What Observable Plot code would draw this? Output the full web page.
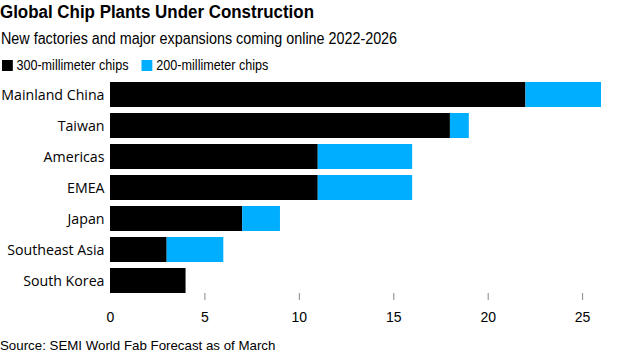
<!DOCTYPE html>
<html>
<head>
<meta charset="utf-8">
<script src="https://cdn.jsdelivr.net/npm/d3@7"></script>
<script src="https://cdn.jsdelivr.net/npm/@observablehq/plot@0.6"></script>
<style>
  html, body { margin: 0; padding: 0; background: #fff; }
  #wrap { position: relative; width: 618px; height: 353px; overflow: hidden; font-family: "Liberation Sans", Arial, sans-serif; }
  #title { position: absolute; left: 0px; top: 2px; font-weight: bold; font-size: 18px; white-space: nowrap; transform: scaleX(0.94); transform-origin: 0 0; }
  #subtitle { position: absolute; left: 1px; top: 30px; font-size: 16px; white-space: nowrap; transform: scaleX(0.896); transform-origin: 0 0; }
  #legend { position: absolute; left: 2px; top: 57px; font-size: 14px; white-space: nowrap; display: flex; align-items: center; transform: scaleX(0.9); transform-origin: 0 0; }
  .sw { display: inline-block; width: 12px; height: 11px; margin-right: 4px; }
  .item { display: inline-flex; align-items: center; margin-right: 15px; }
  #chart { position: absolute; left: 0; top: 76px; }
  #source { position: absolute; left: 0; top: 338px; font-size: 13.3px; white-space: nowrap; color: #000; }
</style>
</head>
<body>
<div id="wrap">
  <div id="title">Global Chip Plants Under Construction</div>
  <div id="subtitle">New factories and major expansions coming online 2022-2026</div>
  <div id="legend"></div>
  <div id="chart"></div>
  <div id="source">Source: SEMI World Fab Forecast as of March</div>
</div>
<script>
const regions = ["Mainland China", "Taiwan", "Americas", "EMEA", "Japan", "Southeast Asia", "South Korea"];
const chips300 = [22, 18, 11, 11, 7, 3, 4];
const chips200 = [4, 1, 5, 5, 2, 3, 0];
const seriesNames = ["300-millimeter chips", "200-millimeter chips"];
const seriesColors = ["#000000", "#00aeff"];
const xTicks = [0, 5, 10, 15, 20, 25];

const data = [];
regions.forEach((r, i) => {
  data.push({region: r, series: seriesNames[0], value: chips300[i]});
  data.push({region: r, series: seriesNames[1], value: chips200[i]});
});

const legend = document.getElementById("legend");
seriesNames.forEach((s, i) => {
  const it = document.createElement("span");
  it.className = "item";
  it.innerHTML = `<span class="sw" style="background:${seriesColors[i]}"></span>${s}`;
  legend.appendChild(it);
});

const chart = Plot.plot({
  width: 618,
  height: 260,
  marginLeft: 110,
  marginRight: 17,
  marginTop: 6,
  marginBottom: 43,
  style: {fontFamily: "'Open Sans', sans-serif", fontSize: "14px", color: "#000", background: "#fff"},
  x: {domain: [0, 26], axis: null},
  y: {domain: regions, paddingInner: 0.2, paddingOuter: 0, axis: null},
  color: {domain: seriesNames, range: seriesColors},
  marks: [
    Plot.barX(data, Plot.stackX({y: "region", x: "value", fill: "series", order: seriesNames})),
    Plot.axisY({tickSize: 0, tickPadding: 6, label: null, fontSize: 14.2}),
    Plot.axisX({ticks: xTicks.filter(d => d > 0), tickSize: 7, stroke: "#888", tickFormat: () => "", label: null}),
    Plot.axisX({ticks: xTicks, tickSize: 0, tickPadding: 19, label: null, fontFamily: "'Liberation Sans', sans-serif", fontSize: 14})
  ]
});
document.getElementById("chart").appendChild(chart);
</script>
</body>
</html>
